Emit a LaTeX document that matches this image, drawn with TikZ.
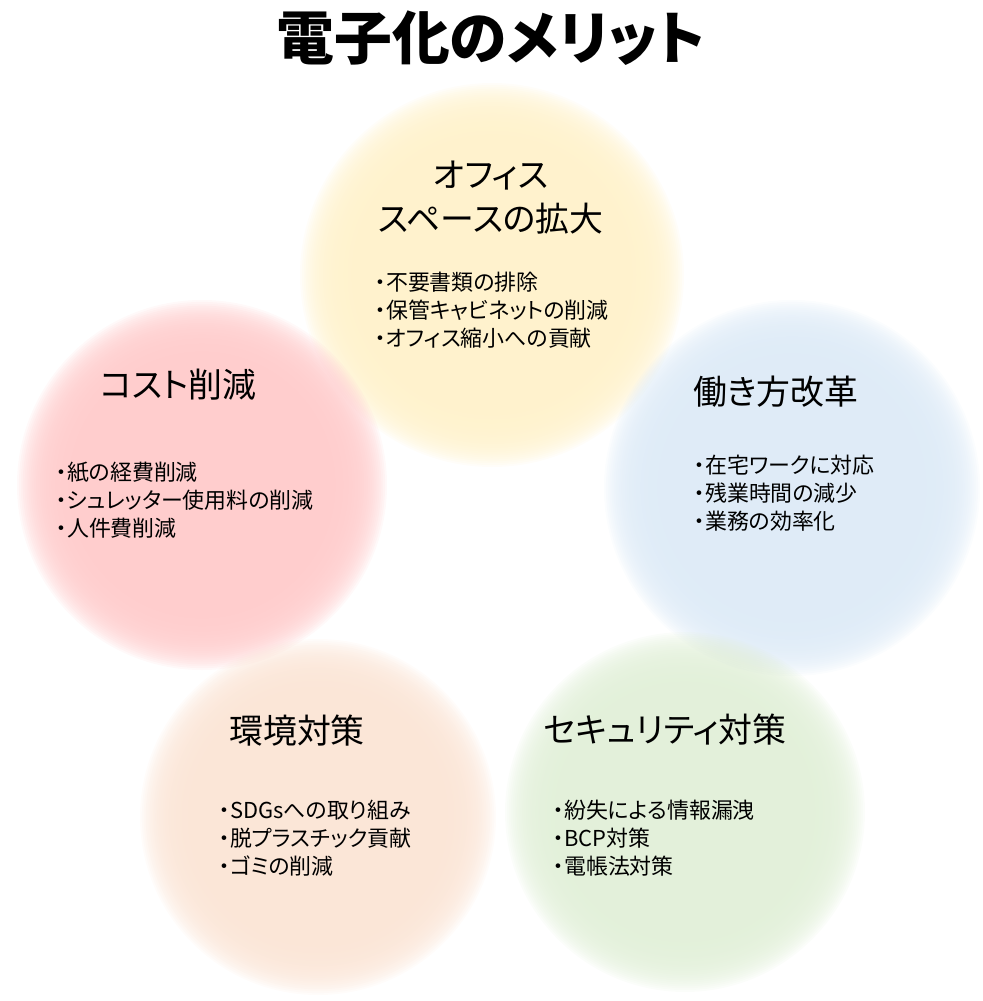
\documentclass[tikz,border=0pt]{standalone}
\usepackage{fontspec}
\setmainfont[RawFeature=+palt]{Noto Sans CJK JP}

\definecolor{officeyellow}{HTML}{FFF2CC}
\definecolor{costpink}{HTML}{FFCCCC}
\definecolor{workblue}{HTML}{DEEBF7}
\definecolor{ecopeach}{HTML}{FBE5D6}
\definecolor{securegreen}{HTML}{E2F0D9}

\begin{document}
\begin{tikzpicture}[x=1bp, y=-1bp,
    heading/.style={font=\fontsize{34}{44}\selectfont, align=center, inner sep=0pt},
    points/.style={font=\fontsize{22}{28}\selectfont, align=left, anchor=north west, inner sep=0pt}]

    \useasboundingbox (0,0) rectangle (983,1001);

    % --- Circles (soft edge from stacked translucent discs) ---
    \foreach \cx/\cy/\r/\col in {492/275/192/officeyellow, 202/485/185/costpink,
        792/488/188/workblue, 318/817/178/ecopeach, 685/812/180/securegreen}
    {
        \foreach \k in {0,...,29}
            \fill[\col, opacity=0.12] (\cx,\cy) circle ({\r-1.9*\k});
    }

    % --- Title ---
    \node[font=\fontsize{58}{64}\selectfont\bfseries, inner sep=0pt] (title) at (491,38) {電子化のメリット};

    % --- Headings ---
    \node[heading] (office) at (491,198) {オフィス\\スペースの拡大};
    \node[heading] (cost) at (178,385) {コスト削減};
    \node[heading] (work) at (776,392) {働き方改革};
    \node[heading] (eco) at (297,731) {環境対策};
    \node[heading] (secure) at (665,730) {セキュリティ対策};

    % --- Bullet lists ---
    \node[points] (office-list) at (375,272) {・不要書類の排除\\・保管キャビネットの削減\\・オフィス縮小への貢献};
    \node[points] (cost-list) at (56,462) {・紙の経費削減\\・シュレッター使用料の削減\\・人件費削減};
    \node[points] (work-list) at (694,455) {・在宅ワークに対応\\・残業時間の減少\\・業務の効率化};
    \node[points] (eco-list) at (219,800) {・SDGsへの取り組み\\・脱プラスチック貢献\\・ゴミの削減};
    \node[points] (secure-list) at (553,800) {・紛失による情報漏洩\\・BCP対策\\・電帳法対策};

\end{tikzpicture}
\end{document}
